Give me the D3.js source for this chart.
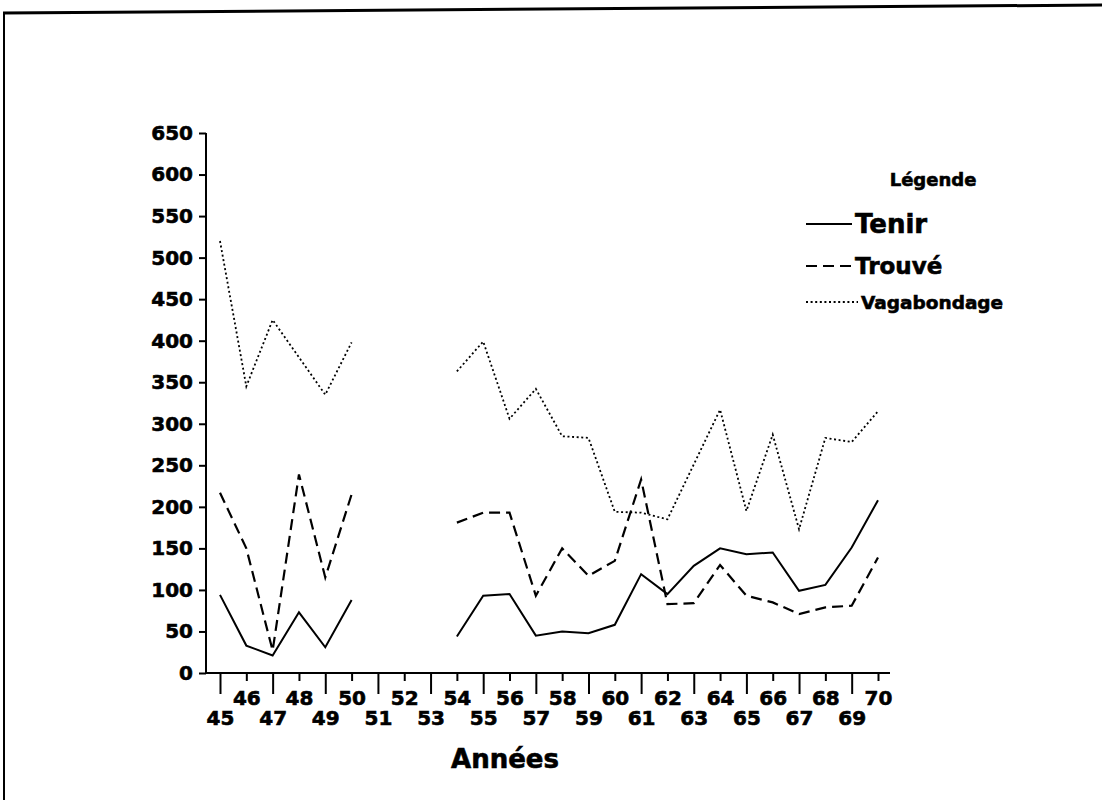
<!DOCTYPE html>
<html><head><meta charset="utf-8">
<script src="https://cdn.jsdelivr.net/npm/d3@7"></script>
<style>
html,body{margin:0;padding:0;background:#fff;}
svg{display:block;}
text{font-family:"DejaVu Sans",sans-serif;font-weight:bold;fill:#000;stroke:#000;stroke-width:0.6px;}
</style></head>
<body>
<svg id="c" width="1102" height="800"></svg>
<script>
const years = [45,46,47,48,49,50,51,52,53,54,55,56,57,58,59,60,61,62,63,64,65,66,67,68,69,70];
const tenir = [94,33,21,73,31,88,null,null,null,44,93,95,45,50,48,58,119,95,129,150,143,145,99,106,151,208];
const trouve = [217,150,27,239,115,215,null,null,null,181,193,193,93,150,117,135,233,83,84,130,93,85,71,79,81,139];
const vagabondage = [520,345,425,380,335,398,null,null,null,363,399,306,342,285,283,194,193,185,251,317,195,287,173,283,278,315];
const yTicks = [0,50,100,150,200,250,300,350,400,450,500,550,600,650];
const seriesNames = ["Tenir","Trouvé","Vagabondage"];
const legendTitle = "Légende";
const xTitle = "Années";

const svg = d3.select("#c");
// page frame (scan border)
svg.append("line").attr("x1",3).attr("y1",13).attr("x2",1102).attr("y2",5).attr("stroke","#000").attr("stroke-width",3);
svg.append("line").attr("x1",4).attr("y1",12).attr("x2",4).attr("y2",800).attr("stroke","#000").attr("stroke-width",2);

const x = d3.scaleLinear().domain([45,70]).range([220,878]);
const y = d3.scaleLinear().domain([0,650]).range([673,133]);
const axisX0 = 206;

// Y axis
const gy = svg.append("g").attr("transform",`translate(${axisX0},0)`)
  .call(d3.axisLeft(y).tickValues(yTicks).tickSize(7).tickPadding(6).tickFormat(d3.format("d")));
gy.select(".domain").remove();
gy.selectAll(".tick line").attr("stroke","#000").attr("stroke-width",2);
gy.selectAll(".tick text").style("font-family","DejaVu Sans").style("font-weight","bold").style("font-size","20px").attr("fill","#000");
svg.append("line").attr("x1",axisX0).attr("x2",axisX0).attr("y1",y(650)).attr("y2",y(0)+1).attr("stroke","#000").attr("stroke-width",2);

// X axis
const gx = svg.append("g").attr("transform",`translate(0,${y(0)})`)
  .call(d3.axisBottom(x).tickValues(years).tickSize(20).tickFormat(d=>String(d)));
gx.select(".domain").remove();
gx.selectAll(".tick line").attr("stroke","#000").attr("stroke-width",2)
  .attr("y2",(d)=> d%2===1 ? 21 : 8);
gx.selectAll(".tick text").style("font-family","DejaVu Sans").style("font-weight","bold").style("font-size","20px").attr("fill","#000")
  .attr("dy",null).attr("y",(d)=> d%2===1 ? 52 : 32);
svg.append("line").attr("x1",axisX0-1).attr("x2",890).attr("y1",y(0)).attr("y2",y(0)).attr("stroke","#000").attr("stroke-width",2);

svg.append("text").attr("x",505).attr("y",768).attr("text-anchor","middle")
  .style("font-size","26px").text(xTitle);

// lines
const line = d3.line().defined(d=>d.v!==null).x(d=>x(d.yr)).y(d=>y(d.v));
const styles = [
  {dash:null, w:2},
  {dash:"11,6", w:2.2},
  {dash:"2,2.6", w:1.8}
];
[tenir,trouve,vagabondage].forEach((vals,i)=>{
  const data = years.map((yr,j)=>({yr:yr,v:vals[j]}));
  svg.append("path").datum(data).attr("d",line).attr("fill","none").attr("stroke","#000")
    .attr("stroke-width",styles[i].w).attr("stroke-dasharray",styles[i].dash).attr("stroke-linejoin","miter");
});

// legend
svg.append("text").attr("x",933).attr("y",186).attr("text-anchor","middle").style("font-size","18px").text(legendTitle);
const legY = [224,266,302];
const legX2 = [852,852,858];
const legSize = ["26px","23px","18.5px"];
seriesNames.forEach((n,i)=>{
  svg.append("line").attr("x1",806).attr("x2",legX2[i]).attr("y1",legY[i]).attr("y2",legY[i])
    .attr("stroke","#000").attr("stroke-width",styles[i].w).attr("stroke-dasharray",styles[i].dash);
  svg.append("text").attr("x",legX2[i]+3).attr("y",legY[i]).attr("dy","0.36em").style("font-size",legSize[i]).text(n);
});
</script>
</body></html>
